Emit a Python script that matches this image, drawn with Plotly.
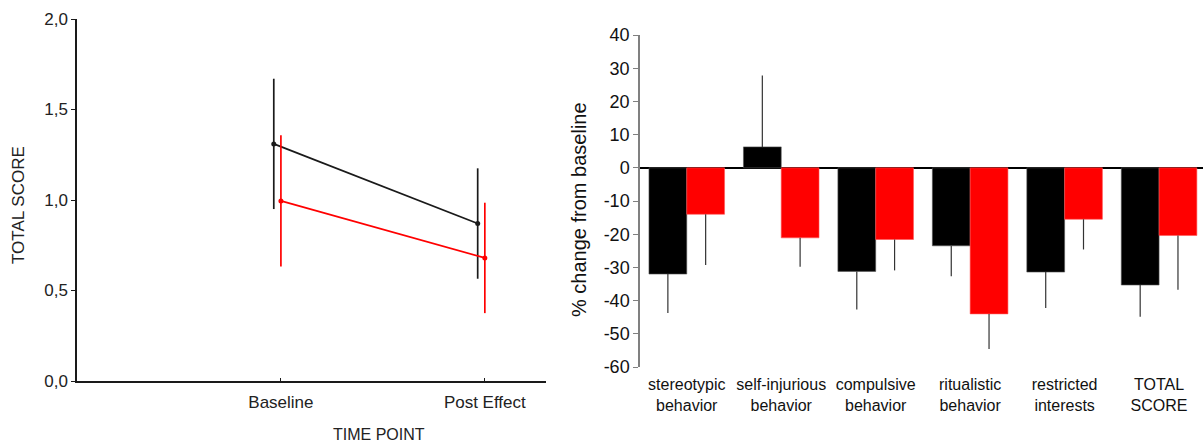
import plotly.graph_objects as go

# ---- Left panel: mean total score at each time point ----
time_points = ["Baseline", "Post Effect"]

black_mean = [1.31, 0.87]
black_err = [0.36, 0.305]
red_mean = [0.995, 0.68]
red_err = [0.363, 0.305]

# ---- Right panel: % change from baseline per subscale ----
subscales = [
    "stereotypic<br>behavior",
    "self-injurious<br>behavior",
    "compulsive<br>behavior",
    "ritualistic<br>behavior",
    "restricted<br>interests",
    "TOTAL<br>SCORE",
]
black_change = [-32.0, 6.3, -31.2, -23.5, -31.4, -35.3]
black_change_err = [11.7, 21.5, 11.5, 9.2, 10.8, 9.6]
red_change = [-14.0, -21.1, -21.6, -44.0, -15.5, -20.4]
red_change_err = [15.3, 8.7, 9.3, 10.6, 9.1, 16.3]

change_ticks = [-60, -50, -40, -30, -20, -10, 0, 10, 20, 30, 40]
change_tick_labels = ["-60", "-50", "-40", "-30", "-20", "-10", "0", "10", "20", "30", "40"]

W, H = 1203, 445
FONT = "Arial, Liberation Sans, sans-serif"
BLACK = "#1a1a1a"
RED = "#ff0000"


def px_x(a, b):
    return [a / W, b / W]


def px_y(top, bottom):
    return [1 - bottom / H, 1 - top / H]


fig = go.Figure()

# line + error bar series, black drawn slightly left of each tick
idx = list(range(len(time_points)))
fig.add_trace(go.Scatter(
    x=[i - 0.035 for i in idx], y=black_mean,
    mode="lines+markers",
    line=dict(color=BLACK, width=1.7),
    marker=dict(color=BLACK, size=5),
    error_y=dict(type="data", array=black_err, color=BLACK, thickness=1.7, width=0),
    xaxis="x", yaxis="y", showlegend=False,
))
fig.add_trace(go.Scatter(
    x=idx, y=red_mean,
    mode="lines+markers",
    line=dict(color=RED, width=1.7),
    marker=dict(color=RED, size=5),
    error_y=dict(type="data", array=red_err, color=RED, thickness=1.7, width=0),
    xaxis="x", yaxis="y", showlegend=False,
))


def one_sided(vals, errs):
    up = [e if v > 0 else 0 for v, e in zip(vals, errs)]
    down = [e if v <= 0 else 0 for v, e in zip(vals, errs)]
    return up, down


bu, bd = one_sided(black_change, black_change_err)
ru, rd = one_sided(red_change, red_change_err)

fig.add_trace(go.Bar(
    x=subscales, y=black_change,
    marker=dict(color="#000000", line=dict(width=0.6, color="#555555")),
    error_y=dict(type="data", symmetric=False, array=bu, arrayminus=bd,
                 color="#333333", thickness=1.2, width=0),
    xaxis="x2", yaxis="y2", showlegend=False,
))
fig.add_trace(go.Bar(
    x=subscales, y=red_change,
    marker=dict(color="#ff0000", line=dict(width=0.6, color="#ff5555")),
    error_y=dict(type="data", symmetric=False, array=ru, arrayminus=rd,
                 color="#333333", thickness=1.2, width=0),
    xaxis="x2", yaxis="y2", showlegend=False,
))

fig.update_layout(
    width=W, height=H,
    margin=dict(l=0, r=0, t=0, b=0, autoexpand=False),
    paper_bgcolor="white", plot_bgcolor="white",
    separators=",.",
    font=dict(family=FONT, color="#222222"),
    barmode="group", bargap=0.2, bargroupgap=0,
    xaxis=dict(
        domain=px_x(77, 546), anchor="y", automargin=False,
        range=[-1, 1.3], tickvals=idx, ticktext=time_points,
        showline=True, linecolor=BLACK, linewidth=1.5,
        ticks="inside", ticklen=3, tickcolor=BLACK,
        showgrid=False, zeroline=False, ticklabelstandoff=5,
        tickfont=dict(size=17, color="#222222"),
    ),
    yaxis=dict(
        domain=px_y(19, 381), anchor="x", automargin=False,
        range=[0, 2], dtick=0.5, tickformat=".1f",
        showline=True, linecolor=BLACK, linewidth=1.5,
        ticks="outside", ticklen=4, tickcolor=BLACK,
        showgrid=False, zeroline=False,
        tickfont=dict(size=17, color="#222222"),
    ),
    xaxis2=dict(
        domain=px_x(640, 1203), anchor="y2", automargin=False,
        range=[-0.495, 5.465],
        showline=False, ticks="", showgrid=False, zeroline=False,
        ticklabelstandoff=6,
        tickfont=dict(size=16, color="#111111"),
    ),
    yaxis2=dict(
        domain=px_y(35, 367), anchor="x2", automargin=False,
        range=[-60, 40], tickvals=change_ticks, ticktext=change_tick_labels,
        showline=True, linecolor="#808080", linewidth=1.5,
        ticks="outside", ticklen=5, tickcolor="#808080",
        showgrid=False,
        zeroline=True, zerolinecolor="#000000", zerolinewidth=1.5,
        tickfont=dict(size=18, color="#111111"),
    ),
    annotations=[
        dict(text="TIME POINT", x=379 / W, y=1 - 434 / H, xref="paper", yref="paper",
             xanchor="center", yanchor="middle", showarrow=False,
             font=dict(size=16, color="#222222")),
        dict(text="TOTAL SCORE", x=18 / W, y=1 - 205 / H, xref="paper", yref="paper",
             xanchor="center", yanchor="middle", textangle=-90, showarrow=False,
             font=dict(size=17, color="#222222")),
        dict(text="% change from baseline", x=579 / W, y=1 - 210 / H, xref="paper", yref="paper",
             xanchor="center", yanchor="middle", textangle=-90, showarrow=False,
             font=dict(size=20, color="#111111")),
    ],
)

fig.write_html("out.html")
